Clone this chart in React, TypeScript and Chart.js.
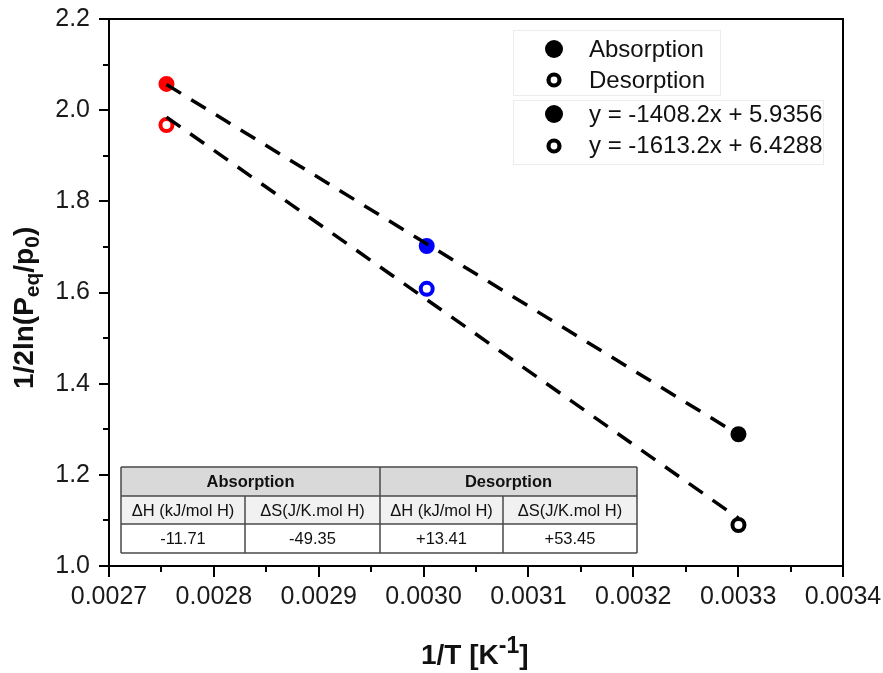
import React, { useEffect, useRef } from "react";
import { Chart, registerables } from "chart.js";

Chart.register(...registerables);

// ---- data ----
const absorptionX = [0.0027548, 0.003003, 0.0033003];
const absorptionY = [2.0575, 1.702, 1.289];
const desorptionX = [0.0027548, 0.003003, 0.0033003];
const desorptionY = [1.9675, 1.608, 1.09];
const pointColors = ["#ff0000", "#0000ff", "#000000"];

const absFitX = [0.0027548, 0.0033003];
const absFitY = [2.0563, 1.2881];
const desFitX = [0.0027548, 0.0033003];
const desFitY = [1.9848, 1.1048];

const xTicks = [0.0027, 0.0028, 0.0029, 0.003, 0.0031, 0.0032, 0.0033, 0.0034];
const xMinor = [0.00275, 0.00285, 0.00295, 0.00305, 0.00315, 0.00325, 0.00335];
const yTicks = [1.0, 1.2, 1.4, 1.6, 1.8, 2.0, 2.2];
const yMinor = [1.1, 1.3, 1.5, 1.7, 1.9, 2.1];

const legendLabels = ["Absorption", "Desorption"];
const fitLabels = ["y = -1408.2x + 5.9356", "y = -1613.2x + 6.4288"];

const tableGroups = ["Absorption", "Desorption"];
const tableHeaders = ["ΔH (kJ/mol H)", "ΔS(J/K.mol H)", "ΔH (kJ/mol H)", "ΔS(J/K.mol H)"];
const tableValues = ["-11.71", "-49.35", "+13.41", "+53.45"];

const FONT = "'Liberation Sans', Arial, Helvetica, sans-serif";

type Seg = { t: string; size: number; dy: number };

function drawSegs(ctx: CanvasRenderingContext2D, segs: Seg[], bold: boolean) {
  let x = 0;
  ctx.textAlign = "left";
  ctx.textBaseline = "alphabetic";
  for (const s of segs) {
    ctx.font = `${bold ? "bold " : ""}${s.size}px ${FONT}`;
    ctx.fillText(s.t, x, s.dy);
    x += ctx.measureText(s.t).width;
  }
}

const decoPlugin = {
  id: "deco",
  afterDraw(chart: any) {
    const ctx: CanvasRenderingContext2D = chart.ctx;
    const ca = chart.chartArea;
    const xs = chart.scales.x;
    const ys = chart.scales.y;
    ctx.save();

    // frame
    ctx.strokeStyle = "#000";
    ctx.lineWidth = 2;
    ctx.strokeRect(ca.left, ca.top, ca.right - ca.left, ca.bottom - ca.top);

    // ticks
    ctx.lineWidth = 2;
    ctx.beginPath();
    for (const v of xTicks) {
      const px = Math.round(xs.getPixelForValue(v));
      ctx.moveTo(px, ca.bottom);
      ctx.lineTo(px, ca.bottom + 11);
    }
    for (const v of xMinor) {
      const px = Math.round(xs.getPixelForValue(v));
      ctx.moveTo(px, ca.bottom);
      ctx.lineTo(px, ca.bottom + 6);
    }
    for (const v of yTicks) {
      const py = Math.round(ys.getPixelForValue(v));
      ctx.moveTo(ca.left, py);
      ctx.lineTo(ca.left - 10, py);
    }
    for (const v of yMinor) {
      const py = Math.round(ys.getPixelForValue(v));
      ctx.moveTo(ca.left, py);
      ctx.lineTo(ca.left - 6, py);
    }
    ctx.stroke();

    // axis titles
    ctx.fillStyle = "#111";
    ctx.save();
    ctx.translate(421, 664);
    drawSegs(
      ctx,
      [
        { t: "1/T [K", size: 28, dy: 0 },
        { t: "-1", size: 23, dy: -11 },
        { t: "]", size: 28, dy: 0 },
      ],
      true
    );
    ctx.restore();

    ctx.save();
    ctx.translate(33, 389);
    ctx.rotate(-Math.PI / 2);
    drawSegs(
      ctx,
      [
        { t: "1/2ln(P", size: 28, dy: 0 },
        { t: "eq", size: 21, dy: 6 },
        { t: "/p", size: 28, dy: 0 },
        { t: "0", size: 21, dy: 6 },
        { t: ")", size: 28, dy: 0 },
      ],
      true
    );
    ctx.restore();

    // legend boxes
    ctx.strokeStyle = "#ececec";
    ctx.lineWidth = 1;
    ctx.fillStyle = "#fff";
    ctx.fillRect(513, 30, 207, 65);
    ctx.strokeRect(513.5, 30.5, 207, 65);
    ctx.fillRect(513, 100, 310, 64);
    ctx.strokeRect(513.5, 100.5, 310, 64);

    const rows = [
      { label: legendLabels[0], filled: true, cy: 49, base: 57 },
      { label: legendLabels[1], filled: false, cy: 80, base: 88 },
      { label: fitLabels[0], filled: true, cy: 114, base: 122 },
      { label: fitLabels[1], filled: false, cy: 146, base: 153 },
    ];
    for (const r of rows) {
      ctx.beginPath();
      if (r.filled) {
        ctx.fillStyle = "#000";
        ctx.arc(554, r.cy, 9, 0, Math.PI * 2);
        ctx.fill();
      } else {
        ctx.strokeStyle = "#000";
        ctx.lineWidth = 4.2;
        ctx.arc(554, r.cy, 5.5, 0, Math.PI * 2);
        ctx.stroke();
      }
      ctx.fillStyle = "#111";
      ctx.font = `24px ${FONT}`;
      ctx.textAlign = "left";
      ctx.textBaseline = "alphabetic";
      ctx.fillText(r.label, 589, r.base);
    }

    // table
    const cols = [121, 245, 380, 503, 637];
    const rws = [467, 496, 524, 553];
    ctx.fillStyle = "#d9d9d9";
    ctx.fillRect(cols[0], rws[0], cols[4] - cols[0], rws[1] - rws[0]);
    ctx.fillStyle = "#f1f1f1";
    ctx.fillRect(cols[0], rws[1], cols[4] - cols[0], rws[2] - rws[1]);
    ctx.fillStyle = "#fff";
    ctx.fillRect(cols[0], rws[2], cols[4] - cols[0], rws[3] - rws[2]);
    ctx.strokeStyle = "#4a4a4a";
    ctx.lineWidth = 1.5;
    ctx.beginPath();
    for (const y of rws) {
      ctx.moveTo(cols[0], y);
      ctx.lineTo(cols[4], y);
    }
    for (const x of [cols[0], cols[2], cols[4]]) {
      ctx.moveTo(x, rws[0]);
      ctx.lineTo(x, rws[3]);
    }
    for (const x of [cols[1], cols[3]]) {
      ctx.moveTo(x, rws[1]);
      ctx.lineTo(x, rws[3]);
    }
    ctx.stroke();

    ctx.fillStyle = "#111";
    ctx.textAlign = "center";
    ctx.textBaseline = "middle";
    ctx.font = `bold 16.5px ${FONT}`;
    ctx.fillText(tableGroups[0], (cols[0] + cols[2]) / 2, (rws[0] + rws[1]) / 2 + 1);
    ctx.fillText(tableGroups[1], (cols[2] + cols[4]) / 2, (rws[0] + rws[1]) / 2 + 1);
    ctx.font = `16.5px ${FONT}`;
    for (let i = 0; i < 4; i++) {
      const cx = (cols[i] + cols[i + 1]) / 2;
      ctx.fillText(tableHeaders[i], cx, (rws[1] + rws[2]) / 2 + 1);
      ctx.fillText(tableValues[i], cx, (rws[2] + rws[3]) / 2 + 1);
    }

    ctx.restore();
  },
};

export default function App() {
  const ref = useRef<HTMLCanvasElement | null>(null);

  useEffect(() => {
    if (!ref.current) return;
    const toPts = (xs: number[], ys: number[]) => xs.map((x, i) => ({ x, y: ys[i] }));
    const chart = new Chart(ref.current, {
      type: "scatter",
      data: {
        datasets: [
          {
            label: "fitAbs",
            data: toPts(absFitX, absFitY),
            showLine: true,
            borderColor: "#000",
            borderWidth: 3.5,
            borderDash: [17, 12],
            pointRadius: 0,
            fill: false,
            order: 0,
          },
          {
            label: "fitDes",
            data: toPts(desFitX, desFitY),
            showLine: true,
            borderColor: "#000",
            borderWidth: 3.5,
            borderDash: [17, 12],
            pointRadius: 0,
            fill: false,
            order: 0,
          },
          {
            label: "Absorption",
            data: toPts(absorptionX, absorptionY),
            pointRadius: 7,
            pointBorderWidth: 2,
            pointBackgroundColor: pointColors,
            pointBorderColor: pointColors,
            order: 1,
          },
          {
            label: "Desorption",
            data: toPts(desorptionX, desorptionY),
            pointRadius: 6,
            pointBorderWidth: 4,
            pointBackgroundColor: "#ffffff",
            pointBorderColor: pointColors,
            order: 1,
          },
        ],
      },
      options: {
        animation: false,
        responsive: false,
        devicePixelRatio: 1,
        events: [],
        layout: { padding: { top: 19, right: 40, left: 0, bottom: 0 } },
        plugins: {
          legend: { display: false },
          tooltip: { enabled: false },
          title: { display: false },
        },
        scales: {
          x: {
            type: "linear",
            min: 0.0027,
            max: 0.0034,
            grid: { display: false, drawTicks: false },
            border: { display: false },
            afterBuildTicks: (s: any) => {
              s.ticks = xTicks.map((v) => ({ value: v }));
            },
            afterFit: (s: any) => {
              s.height = 107;
              s.paddingLeft = 0;
              s.paddingRight = 0;
              s.paddingTop = 0;
              s.paddingBottom = 0;
            },
            ticks: {
              autoSkip: false,
              maxRotation: 0,
              padding: 16,
              color: "#1a1a1a",
              font: { family: FONT, size: 25 },
              callback: (v: any) => Number(v).toFixed(4),
            },
          },
          y: {
            type: "linear",
            min: 1.0,
            max: 2.2,
            grid: { display: false, drawTicks: false },
            border: { display: false },
            afterBuildTicks: (s: any) => {
              s.ticks = yTicks.map((v) => ({ value: v }));
            },
            afterFit: (s: any) => {
              s.width = 109;
              s.paddingLeft = 0;
              s.paddingRight = 0;
              s.paddingTop = 0;
              s.paddingBottom = 0;
            },
            ticks: {
              autoSkip: false,
              padding: 19,
              color: "#1a1a1a",
              font: { family: FONT, size: 25 },
              callback: (v: any) => Number(v).toFixed(1),
            },
          },
        },
      },
      plugins: [decoPlugin],
    } as any);
    return () => chart.destroy();
  }, []);

  return (
    <div style={{ position: "absolute", left: 0, top: 0, width: 883, height: 673, background: "#fff" }}>
      <canvas ref={ref} width={883} height={673} style={{ width: 883, height: 673, display: "block" }} />
    </div>
  );
}
